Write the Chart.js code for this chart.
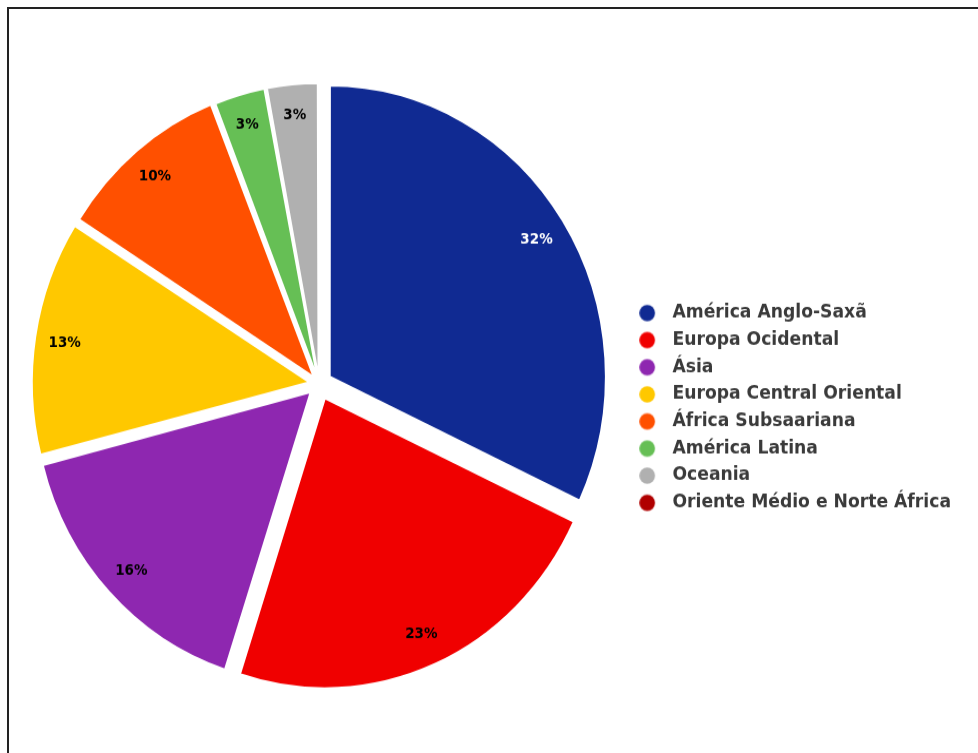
<!DOCTYPE html>
<html>
<head>
<meta charset="utf-8">
<script src="https://cdn.jsdelivr.net/npm/chart.js@4"></script>
<style>
html,body{margin:0;padding:0;background:#fff;width:978px;height:753px;overflow:hidden}
#frame{position:absolute;left:7px;top:7px;width:990px;height:770px;border-top:2px solid #222;border-left:2px solid #222;}
#c{position:absolute;left:0;top:0}
</style>
</head>
<body>
<div id="frame"></div>
<canvas id="c" width="978" height="714" style="width:978px;height:753px"></canvas>
<script>
const categories = [
  'América Anglo-Saxã',
  'Europa Ocidental',
  'Ásia',
  'Europa Central Oriental',
  'África Subsaariana',
  'América Latina',
  'Oceania',
  'Oriente Médio e Norte África'
];
const shares = [32, 23, 16, 13, 10, 3, 3, 0];
const colors = ['#102a92', '#f00000', '#8e27b0', '#ffc800', '#ff5000', '#66bf55', '#b0b0b0', '#b00000'];
const labelColors = ['#ffffff', '#000000', '#000000', '#000000', '#000000', '#000000', '#000000', '#000000'];

const FONT = '"DejaVu Sans", sans-serif';
const LEG_SIZE = 17.2;
const LEG_PAD = 8.5;
const SHIFT = 15;
const LABEL_FRAC = 0.882;
const CENTER_X = 319;
const RIGHT_PAD = 17;
const total = shares.reduce((a, b) => a + b, 0);

function explodeOffset(ctx) {
  const v = ctx.dataset.data[ctx.dataIndex] || 0;
  const circ = v / total * Math.PI * 2;
  const fix = 1 - Math.sin(Math.min(Math.PI, circ));
  return 4 * SHIFT / (1 + 2 * fix);
}

function dotImage(color) {
  const c = document.createElement('canvas');
  c.width = 32; c.height = 18;
  const g = c.getContext('2d');
  g.fillStyle = color;
  g.beginPath();
  g.arc(8, 9, 7.8, 0, Math.PI * 2);
  g.fill();
  return c;
}
const dots = colors.map(dotImage);

const mctx = document.createElement('canvas').getContext('2d');
mctx.font = 'bold ' + LEG_SIZE + 'px ' + FONT;
const maxTextW = Math.max(...categories.map(t => mctx.measureText(t).width));
const legendW = LEG_PAD + LEG_SIZE + LEG_SIZE / 2 + maxTextW;
const legendLeft = 978 - RIGHT_PAD - legendW;
const LEFT_PAD = 2 * CENTER_X - legendLeft;

const pctLabels = {
  id: 'pctLabels',
  afterDatasetsDraw(chart) {
    const meta = chart.getDatasetMeta(0);
    const ds = chart.data.datasets[0];
    const ctx = chart.ctx;
    ctx.save();
    ctx.font = 'bold 13.5px ' + FONT;
    ctx.textAlign = 'center';
    ctx.textBaseline = 'middle';
    meta.data.forEach((arc, i) => {
      const v = ds.data[i];
      if (!v) return;
      const p = arc.getProps(['x', 'y', 'startAngle', 'endAngle', 'outerRadius'], true);
      const mid = (p.startAngle + p.endAngle) / 2;
      const d = SHIFT + LABEL_FRAC * p.outerRadius;
      ctx.fillStyle = labelColors[i];
      ctx.fillText(Math.round(v / total * 100) + '%', p.x + Math.cos(mid) * d, p.y + Math.sin(mid) * d + 1.5);
    });
    ctx.restore();
  }
};

new Chart(document.getElementById('c'), {
  type: 'pie',
  data: {
    labels: categories,
    datasets: [{
      data: shares,
      backgroundColor: colors,
      borderColor: '#ffffff',
      borderWidth: 2,
      offset: explodeOffset,
      radius: 275
    }]
  },
  options: {
    responsive: false,
    animation: false,
    devicePixelRatio: 1,
    layout: { padding: { left: LEFT_PAD, right: RIGHT_PAD, top: 14, bottom: 0 } },
    plugins: {
      tooltip: { enabled: false },
      legend: {
        position: 'right',
        title: { display: true, text: '', font: { size: 10, lineHeight: 1 }, padding: { top: 0, bottom: 35.5 } },
        labels: {
          usePointStyle: true,
          padding: LEG_PAD,
          color: '#3a3a3a',
          font: { family: FONT, weight: 'bold', size: LEG_SIZE },
          generateLabels: (chart) => chart.data.labels.map((text, i) => ({
            text,
            fillStyle: colors[i],
            strokeStyle: colors[i],
            lineWidth: 0,
            pointStyle: dots[i],
            fontColor: '#3a3a3a',
            hidden: false,
            index: i
          }))
        }
      }
    }
  },
  plugins: [pctLabels]
});
</script>
</body>
</html>
